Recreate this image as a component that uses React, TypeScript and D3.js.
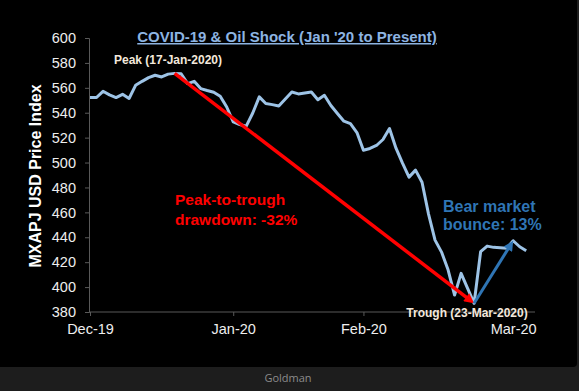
import React, { useEffect, useRef } from 'react';
import * as d3 from 'd3';

// trading days, Dec-19 to early Apr-20
const dates = [
  '2019-12-31', '2020-01-01', '2020-01-02', '2020-01-03', '2020-01-06', '2020-01-07', '2020-01-08',
  '2020-01-09', '2020-01-10', '2020-01-13', '2020-01-14', '2020-01-15', '2020-01-16', '2020-01-17',
  '2020-01-20', '2020-01-21', '2020-01-22', '2020-01-23', '2020-01-24', '2020-01-27', '2020-01-28',
  '2020-01-29', '2020-01-30', '2020-01-31', '2020-02-03', '2020-02-04', '2020-02-05', '2020-02-06',
  '2020-02-07', '2020-02-10', '2020-02-11', '2020-02-12', '2020-02-13', '2020-02-14', '2020-02-17',
  '2020-02-18', '2020-02-19', '2020-02-20', '2020-02-21', '2020-02-24', '2020-02-25', '2020-02-26',
  '2020-02-27', '2020-02-28', '2020-03-02', '2020-03-03', '2020-03-04', '2020-03-05', '2020-03-06',
  '2020-03-09', '2020-03-10', '2020-03-11', '2020-03-12', '2020-03-13', '2020-03-16', '2020-03-17',
  '2020-03-18', '2020-03-19', '2020-03-20', '2020-03-23', '2020-03-24', '2020-03-25', '2020-03-26',
  '2020-03-27', '2020-03-30', '2020-03-31', '2020-04-01', '2020-04-02',
];

const mxapj = [
  552.2, 552.2, 557.2, 554.3, 552.2, 554.8, 551.4,
  562.0, 565.2, 568.2, 570.1, 568.7, 571.0, 571.6,
  571.2, 563.4, 565.2, 559.4, 557.8, 556.4, 553.2,
  544.6, 532.6, 530.5, 529.2, 539.8, 552.7, 547.4,
  546.5, 545.4, 551.0, 556.6, 555.1, 555.9, 556.6,
  550.5, 554.0, 545.8, 539.4, 533.2, 531.3, 524.1,
  509.9, 511.3, 513.7, 518.5, 527.3, 511.5, 499.5,
  488.3, 493.9, 484.2, 458.6, 437.7, 428.1, 413.9,
  393.6, 411.0, 399.0, 387.0, 428.4, 432.9, 431.9,
  431.6, 431.1, 437.2, 432.4, 429.2,
];

const xTickDates = ['2019-12-31', '2020-01-30', '2020-02-27', '2020-03-31'];
const xTickLabels = ['Dec-19', 'Jan-20', 'Feb-20', 'Mar-20'];
const yTicks = [380, 400, 420, 440, 460, 480, 500, 520, 540, 560, 580, 600];

const peakDate = '2020-01-17';
const troughDate = '2020-03-23';
const bounceDate = '2020-03-31';

const W = 579;
const H = 391;
const FONT = '"Liberation Sans", Arial, sans-serif';

export default function App() {
  const svgRef = useRef<SVGSVGElement>(null);

  useEffect(() => {
    if (!svgRef.current) return;
    const svg = d3.select(svgRef.current);
    svg.selectAll('*').remove();

    // frame
    svg.append('rect').attr('width', W).attr('height', H).attr('fill', '#1d1d1d');
    svg.append('path')
      .attr('d', 'M0,0 H577 V363 Q577,367 573,367 H0 Z')
      .attr('fill', '#000');

    const x = d3.scalePoint<string>().domain(dates).range([90, 526.2]);
    const y = d3.scaleLinear().domain([380, 600]).range([312, 38]);

    const defs = svg.append('defs');
    const marker = (id: string, color: string) => {
      defs.append('marker')
        .attr('id', id)
        .attr('viewBox', '0 0 10 10')
        .attr('markerUnits', 'userSpaceOnUse')
        .attr('markerWidth', 11)
        .attr('markerHeight', 10)
        .attr('refX', 4)
        .attr('refY', 5)
        .attr('orient', 'auto')
        .append('path')
        .attr('d', 'M0,0 L10,5 L0,10 Z')
        .attr('fill', color);
    };
    marker('arrRed', '#ff0000');
    marker('arrBlue', '#2f75b5');

    // axes
    const xAxis = svg.append('g')
      .attr('transform', 'translate(0,312)')
      .call(d3.axisBottom(x).tickValues(xTickDates)
        .tickFormat((d, i) => xTickLabels[i]).tickSize(4).tickPadding(8));
    xAxis.select('.domain').remove();
    xAxis.append('line').attr('x1', 89).attr('x2', 535).attr('stroke', '#595959');
    xAxis.selectAll('.tick line').attr('stroke', '#595959');
    xAxis.selectAll('text')
      .attr('fill', '#eeeeee')
      .style('font-family', FONT)
      .style('font-size', '14.5px');

    const yAxis = svg.append('g')
      .attr('transform', 'translate(89,0)')
      .call(d3.axisLeft(y).tickValues(yTicks).tickSize(4).tickPadding(9));
    yAxis.select('.domain').attr('stroke', '#595959');
    yAxis.selectAll('.tick line').attr('stroke', '#595959');
    yAxis.selectAll('text')
      .attr('fill', '#eeeeee')
      .style('font-family', FONT)
      .style('font-size', '14.5px');

    // y title
    svg.append('text')
      .attr('transform', 'translate(41,176) rotate(-90)')
      .attr('text-anchor', 'middle')
      .attr('fill', '#ffffff')
      .style('font-family', FONT)
      .style('font-size', '16px')
      .style('font-weight', 'bold')
      .text('MXAPJ USD Price Index');

    // title
    svg.append('text')
      .attr('x', 287)
      .attr('y', 42)
      .attr('text-anchor', 'middle')
      .attr('fill', '#8db4e2')
      .style('font-family', FONT)
      .style('font-size', '15px')
      .style('font-weight', 'bold')
      .style('text-decoration', 'underline')
      .text("COVID-19 & Oil Shock (Jan '20 to Present)");

    // price line
    const line = d3.line<number>()
      .x((d, i) => x(dates[i]) as number)
      .y(d => y(d));
    svg.append('path')
      .datum(mxapj)
      .attr('d', line)
      .attr('fill', 'none')
      .attr('stroke', '#9dc3e6')
      .attr('stroke-width', 3)
      .attr('stroke-linejoin', 'round');

    const pt = (dt: string) => {
      const i = dates.indexOf(dt);
      return [x(dt) as number, y(mxapj[i])];
    };
    const arrow = (from: number[], to: number[], color: string, w: number, id: string) => {
      const dx = to[0] - from[0];
      const dy = to[1] - from[1];
      const len = Math.hypot(dx, dy);
      const back = 6;
      svg.append('line')
        .attr('x1', from[0]).attr('y1', from[1])
        .attr('x2', to[0] - (dx / len) * back).attr('y2', to[1] - (dy / len) * back)
        .attr('stroke', color)
        .attr('stroke-width', w)
        .attr('marker-end', `url(#${id})`);
    };
    const pPeak = pt(peakDate);
    const pTrough = pt(troughDate);
    const pBounce = pt(bounceDate);
    arrow(pPeak, pTrough, '#ff0000', 3.5, 'arrRed');
    arrow(pTrough, pBounce, '#2f75b5', 3, 'arrBlue');

    // annotations
    const label = (tx: number, ty: number, txt: string, color: string, size: number, anchor = 'start') =>
      svg.append('text')
        .attr('x', tx).attr('y', ty)
        .attr('text-anchor', anchor)
        .attr('fill', color)
        .style('font-family', FONT)
        .style('font-size', `${size}px`)
        .style('font-weight', 'bold')
        .text(txt);

    label(168, 64, 'Peak (17-Jan-2020)', '#f3e8dc', 12, 'middle');
    label(467, 317, 'Trough (23-Mar-2020)', '#f3e8dc', 12, 'middle');
    label(175, 205, 'Peak-to-trough', '#ff0000', 15.5);
    label(175, 225, 'drawdown: -32%', '#ff0000', 15.5);
    label(443, 212, 'Bear market', '#2f75b5', 16);
    label(443, 230, 'bounce: 13%', '#2f75b5', 16);

    // source caption
    svg.append('text')
      .attr('x', 288).attr('y', 382)
      .attr('text-anchor', 'middle')
      .attr('fill', '#8c8c8c')
      .style('font-family', '"Open Sans", sans-serif')
      .style('font-size', '11px')
      .text('Goldman');
  }, []);

  return (
    <svg
      ref={svgRef}
      width={W}
      height={H}
      style={{ position: 'absolute', left: 0, top: 0, display: 'block' }}
    />
  );
}
